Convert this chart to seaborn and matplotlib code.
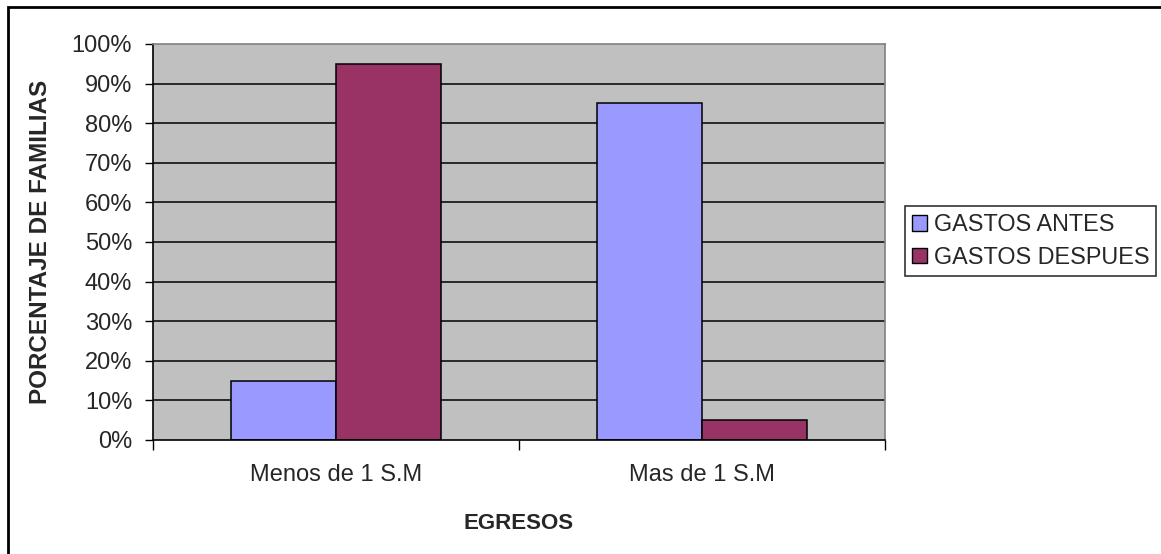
import numpy as np
import pandas as pd
import matplotlib
matplotlib.use('Agg')
import matplotlib.pyplot as plt
from matplotlib.patches import Rectangle
from matplotlib.ticker import FixedLocator, PercentFormatter
import seaborn as sns

categories = ['Menos de 1 S.M', 'Mas de 1 S.M']
series = ['GASTOS ANTES', 'GASTOS DESPUES']
gastos_antes = [15, 85]
gastos_despues = [95, 5]
colours = ['#9999FF', '#993366']

sns.set_style('ticks')
plt.rcParams['font.family'] = ['Liberation Sans', 'DejaVu Sans']

df = pd.DataFrame({
    'egreso': categories * 2,
    'serie': [series[0]] * 2 + [series[1]] * 2,
    'pct': gastos_antes + gastos_despues,
})

fig = plt.figure(figsize=(11.61, 5.54), dpi=100)
ax = fig.add_axes([153 / 1161, 1 - 440 / 554, 732 / 1161, 396 / 554])
ax.set_facecolor('#C0C0C0')

sns.barplot(data=df, x='egreso', y='pct', hue='serie', order=categories, hue_order=series,
            palette=colours, edgecolor='black', linewidth=1.1, width=0.574, ax=ax,
            saturation=1, legend=False)

ax.set_xlim(-0.5, 1.5)
ax.set_ylim(0, 100)
ax.set_yticks(np.arange(0, 101, 10))
ax.yaxis.set_major_formatter(PercentFormatter(decimals=0))
for y in np.arange(10, 100, 10):
    ax.axhline(y, color='black', linewidth=1.1, zorder=0.5)

ax.tick_params(axis='y', direction='out', length=6, width=1, color='black', labelsize=17, pad=9)
ax.tick_params(axis='x', which='major', length=0, labelsize=17, pad=17)
ax.xaxis.set_minor_locator(FixedLocator([-0.5, 0.5, 1.5]))
ax.tick_params(axis='x', which='minor', direction='out', length=7, width=1, color='black')

for side in ['left', 'bottom']:
    ax.spines[side].set_color('black')
    ax.spines[side].set_linewidth(1.2)
for side in ['top', 'right']:
    ax.spines[side].set_visible(True)
    ax.spines[side].set_color('#808080')
    ax.spines[side].set_linewidth(1.2)

ax.set_xlabel('EGRESOS', fontsize=16, fontweight='bold', labelpad=20)
ax.set_ylabel('PORCENTAJE DE FAMILIAS', fontsize=17.5, fontweight='bold', labelpad=14)

handles = [Rectangle((0, 0), 1, 1, facecolor=c, edgecolor='black', linewidth=1) for c in colours]
leg = fig.legend(handles, series, loc='center', bbox_to_anchor=(1030.5 / 1161, 1 - 241 / 554),
                 fontsize=16.8, frameon=True, fancybox=False, handlelength=0.65, handleheight=0.65,
                 handletextpad=0.3, borderpad=0.3, labelspacing=0.4, borderaxespad=0)
leg.get_frame().set_edgecolor('black')
leg.get_frame().set_linewidth(1.2)

# outer chart border (only left and top visible in the crop)
fig.patches.append(Rectangle((8 / 1161, -0.2), 1.5, 1.2 - 7 / 554, transform=fig.transFigure,
                             fill=False, edgecolor='black', linewidth=2))

fig.savefig('out.png', dpi=100)
